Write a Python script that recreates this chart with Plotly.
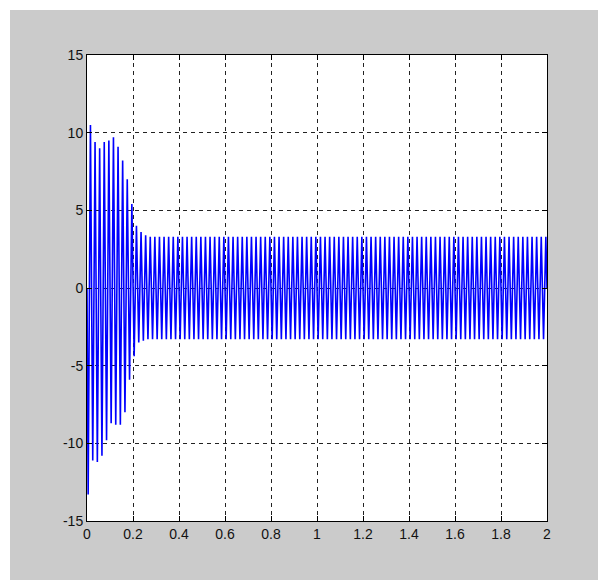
import plotly.graph_objects as go

# ---- data ----
period = 0.02            # s, one oscillation (50 Hz)
n_cycles = 100           # 0 .. 2 s
t_end = 2.0

# transient peak values (one per cycle)
neg_transient = [-13.3, -11.1, -11.2, -10.8, -9.8, -8.7, -8.8, -8.8, -8.0, -5.9, -4.4, -3.5, -3.4]
pos_transient = [10.5, 9.4, 9.0, 9.4, 9.5, 9.7, 9.1, 8.2, 7.0, 5.4, 4.0, 3.6, 3.4]
steady_amp = 3.3         # steady-state peak value

neg_peaks = neg_transient + [-steady_amp] * (n_cycles - len(neg_transient))
pos_peaks = pos_transient + [steady_amp] * (n_cycles - len(pos_transient))

x_ticks = [0, 0.2, 0.4, 0.6, 0.8, 1, 1.2, 1.4, 1.6, 1.8, 2]
x_tick_text = ["0", "0.2", "0.4", "0.6", "0.8", "1", "1.2", "1.4", "1.6", "1.8", "2"]
y_ticks = [-15, -10, -5, 0, 5, 10, 15]
y_tick_text = ["-15", "-10", "-5", "0", "5", "10", "15"]

# ---- build waveform through peak points ----
t = [0.0]
y = [0.0]
for k in range(n_cycles):
    t.append(k * period + period / 4)
    y.append(neg_peaks[k])
    t.append(k * period + 3 * period / 4)
    y.append(pos_peaks[k])
t.append(t_end)
y.append(0.0)

fig = go.Figure()
fig.add_trace(go.Scatter(x=t, y=y, mode="lines",
                         line=dict(color="#0000ff", width=1.6), showlegend=False,
                         hoverinfo="skip"))

gray = "#cbcbcb"
L, R, T, B = 87, 547, 55, 521
W, H = 598, 580
pw, ph = R - L, B - T

fig.add_shape(type="rect", xref="paper", yref="paper",
              x0=(10 - L) / pw, x1=(W - L) / pw + 0.01,
              y0=(B - H) / ph - 0.01, y1=(B - 10) / ph,
              fillcolor=gray, line=dict(width=0), layer="below")
fig.add_shape(type="rect", xref="paper", yref="paper",
              x0=0, x1=1, y0=0, y1=1,
              fillcolor="white", line=dict(width=0), layer="below")

axis_common = dict(showline=True, linecolor="black", linewidth=1, mirror="ticks",
                   ticks="inside", ticklen=5, tickcolor="black",
                   showgrid=True, gridcolor="#222", gridwidth=1, griddash="4px,4px",
                   zeroline=False,
                   tickfont=dict(family="Liberation Sans, Arial, sans-serif", size=14, color="#111"))

fig.update_xaxes(range=[0, 2], tickvals=x_ticks, ticktext=x_tick_text, **axis_common)
fig.update_yaxes(range=[-15, 15], tickvals=y_ticks, ticktext=y_tick_text, **axis_common)

fig.update_layout(width=W, height=H, autosize=False,
                  margin=dict(l=L, r=W - R, t=T, b=H - B, pad=0),
                  paper_bgcolor="white", plot_bgcolor="rgba(0,0,0,0)")

fig.write_html("out.html")
